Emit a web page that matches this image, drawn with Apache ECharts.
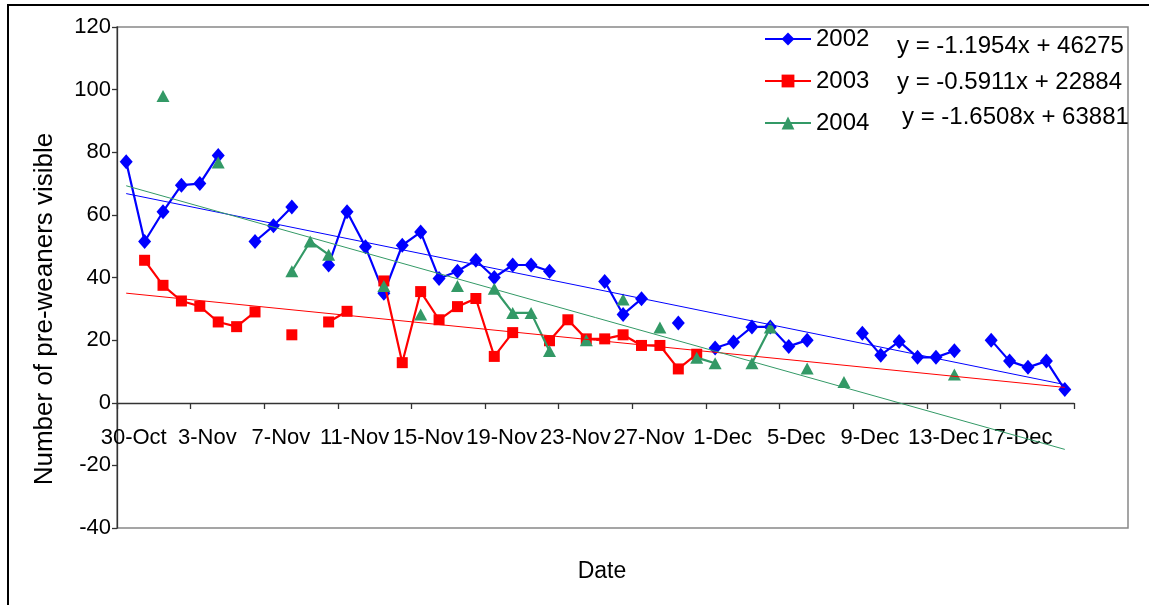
<!DOCTYPE html>
<html>
<head>
<meta charset="utf-8">
<script src="https://cdn.jsdelivr.net/npm/echarts@6/dist/echarts.min.js"></script>
<style>
html,body{margin:0;padding:0;background:#fff;}
#chart{width:1149px;height:605px;}
</style>
</head>
<body>
<div id="chart"></div>
<script>
const categories = ['30-Oct','31-Oct','1-Nov','2-Nov','3-Nov','4-Nov','5-Nov','6-Nov','7-Nov','8-Nov',
  '9-Nov','10-Nov','11-Nov','12-Nov','13-Nov','14-Nov','15-Nov','16-Nov','17-Nov','18-Nov',
  '19-Nov','20-Nov','21-Nov','22-Nov','23-Nov','24-Nov','25-Nov','26-Nov','27-Nov','28-Nov',
  '29-Nov','30-Nov','1-Dec','2-Dec','3-Dec','4-Dec','5-Dec','6-Dec','7-Dec','8-Dec',
  '9-Dec','10-Dec','11-Dec','12-Dec','13-Dec','14-Dec','15-Dec','16-Dec','17-Dec','18-Dec',
  '19-Dec','20-Dec'];

const s2002 = [77, 51.5, 61, 69.5, 70, 79, null, 51.5, 56.5, 62.5,
  null, 44, 61, 49.8, 35, 50.3, 54.5, 39.7, 42, 45.5,
  40, 44, 44, 42, null, null, 38.7, 28.2, 33.2, null,
  25.5, null, 17.5, 19.4, 24.2, 24.2, 18, 20, null, null,
  22.2, 15.2, 19.6, 14.5, 14.5, 16.6, null, 20, 13.3, 11.3,
  13.3, 4.2];

const s2003 = [null, 45.5, 37.5, 32.5, 30.8, 25.8, 24.3, 29, null, 21.7,
  null, 25.8, 29.2, null, 38.9, 12.8, 35.5, 26.5, 30.7, 33.3,
  14.8, 22.4, null, 19.8, 26.5, 20.4, 20.4, 21.7, 18.3, 18.3,
  10.8, 15.5, null, null, null, null, null, null, null, null,
  null, null, null, null, null, null, null, null, null, null,
  null, null];

const s2004 = [null, null, 98, null, null, 76.7, null, null, null, 42,
  51.5, 47.3, null, null, 37.3, null, 28.2, null, 37.3, null,
  36.4, 28.7, 28.7, 16.5, null, 20, null, 33, null, 24,
  null, 14.4, 12.6, null, 12.6, 24, null, 10.9, null, 6.6,
  null, null, null, null, null, 9.0, null, null, null, null,
  null, null];

const seriesNames = ['2002', '2003', '2004'];
const trendStart = [66.8, 35.0, 69.3];   // trend value at 30-Oct
const trendEnd = [5.8, 4.9, -14.9];      // trend value at 20-Dec
const equations = ['y = -1.1954x + 46275', 'y = -0.5911x + 22884', 'y = -1.6508x + 63881'];
const yTicks = {min: -40, max: 120, interval: 20};

const colors = ['#0000FF', '#FF0000', '#339966'];
const symbols = ['diamond', 'rect', 'triangle'];
const symbolSizes = [[13, 15], 11, [13, 12]];
const FONT = '"Liberation Sans", Arial, sans-serif';

function trendData(i) {
  const arr = categories.map(() => null);
  arr[0] = trendStart[i];
  arr[categories.length - 1] = trendEnd[i];
  return arr;
}

const values = [s2002, s2003, s2004];
const series = [];
values.forEach((v, i) => {
  series.push({
    name: seriesNames[i], type: 'line', data: v,
    xAxisIndex: 0, yAxisIndex: 0,
    symbol: symbols[i], symbolSize: symbolSizes[i],
    showAllSymbol: true, connectNulls: false,
    lineStyle: {color: colors[i], width: 2.2},
    itemStyle: {color: colors[i]},
    emphasis: {disabled: true},
    animation: false, z: 3 + i
  });
});
values.forEach((v, i) => {
  series.push({
    name: 'trend ' + seriesNames[i], type: 'line', data: trendData(i),
    xAxisIndex: 0, yAxisIndex: 0,
    symbol: 'none', showSymbol: false, connectNulls: true,
    lineStyle: {color: colors[i], width: 1},
    emphasis: {disabled: true},
    animation: false, z: 10
  });
});

const AX = '#333';
const chart = echarts.init(document.getElementById('chart'), null, {renderer: 'canvas'});
chart.setOption({
  animation: false,
  textStyle: {fontFamily: FONT},
  grid: [
    {left: 117, right: 75, top: 27, bottom: 77, containLabel: false},
    {left: 117, right: 75, top: 27, bottom: 202, containLabel: false}
  ],
  xAxis: [
    {
      type: 'category', data: categories, boundaryGap: true, gridIndex: 0,
      axisLine: {show: false}, axisTick: {show: false}, axisLabel: {show: false},
      splitLine: {show: false}
    },
    {
      type: 'category', data: categories, boundaryGap: true, gridIndex: 1,
      axisLine: {show: true, onZero: false, lineStyle: {color: AX, width: 1.3}},
      axisTick: {show: true, interval: 3, length: 6, lineStyle: {color: AX, width: 1.3}},
      axisLabel: {interval: 3, fontSize: 22, color: '#000', fontFamily: FONT, margin: 24, padding: [0, 0, 0, 15]},
      splitLine: {show: false}
    }
  ],
  yAxis: [
    {
      type: 'value', min: yTicks.min, max: yTicks.max, interval: yTicks.interval, gridIndex: 0,
      axisLine: {show: true, lineStyle: {color: AX, width: 1.3}},
      axisTick: {show: true, length: 5, lineStyle: {color: AX, width: 1.3}},
      axisLabel: {fontSize: 22, color: '#000', fontFamily: FONT, margin: 6},
      splitLine: {show: false}
    },
    {
      type: 'value', min: 0, max: 1, gridIndex: 1, show: false,
      axisLine: {show: false}, axisTick: {show: false}, axisLabel: {show: false}, splitLine: {show: false}
    }
  ],
  legend: {
    data: seriesNames, orient: 'vertical', left: 759, top: 22,
    itemWidth: 46, itemHeight: 16, itemGap: 18,
    textStyle: {fontSize: 24, color: '#000', fontFamily: FONT},
    selectedMode: false
  },
  graphic: [
    {type: 'rect', shape: {x: 8, y: 5, width: 1300, height: 800}, style: {fill: null, stroke: '#000', lineWidth: 2}, silent: true, z: 0},
    {type: 'rect', shape: {x: 117, y: 27, width: 1011, height: 501}, style: {fill: null, stroke: '#888', lineWidth: 1.5}, silent: true, z: 0},
    {type: 'text', x: 897, y: 46, style: {text: equations[0], font: '24px ' + FONT, fill: '#000', verticalAlign: 'middle'}, silent: true},
    {type: 'text', x: 897, y: 82, style: {text: equations[1], font: '24px ' + FONT, fill: '#000', verticalAlign: 'middle'}, silent: true},
    {type: 'text', x: 902, y: 117, style: {text: equations[2], font: '24px ' + FONT, fill: '#000', verticalAlign: 'middle'}, silent: true},
    {type: 'text', x: 602, y: 572, style: {text: 'Date', font: '23px ' + FONT, fill: '#000', align: 'center', verticalAlign: 'middle'}, silent: true},
    {type: 'text', x: 45, y: 309, rotation: Math.PI / 2, style: {text: 'Number of pre-weaners visible', font: '26px ' + FONT, fill: '#000', align: 'center', verticalAlign: 'middle'}, silent: true}
  ],
  series: series
});
</script>
</body>
</html>
